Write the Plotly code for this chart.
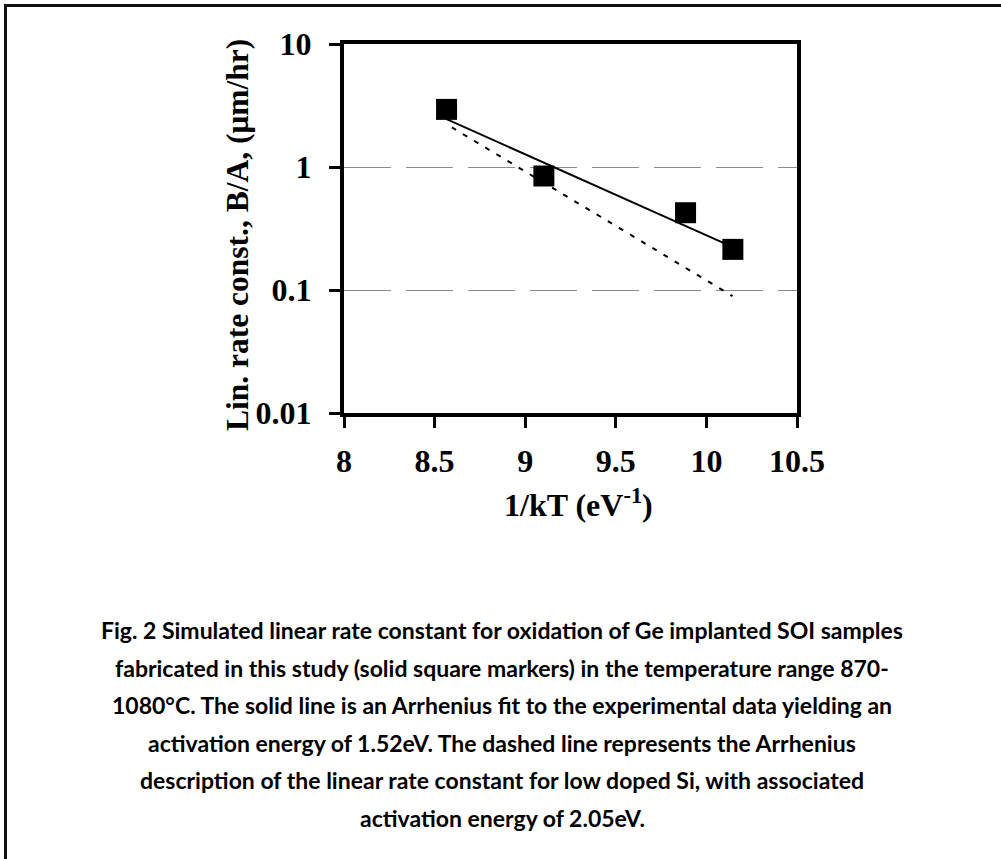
import plotly.graph_objects as go

# ---- data ----
inv_kT = [8.566, 9.103, 9.885, 10.146]
rate = [2.94, 0.845, 0.425, 0.214]

fit_x = [8.566, 10.146]          # Arrhenius fit (1.52 eV)
fit_y = [2.45, 0.223]
si_x = [8.595, 10.144]           # low doped Si (2.05 eV)
si_y = [2.10, 0.0893]

x_ticks = [8, 8.5, 9, 9.5, 10, 10.5]
x_ticktext = ["8", "8.5", "9", "9.5", "10", "10.5"]
y_ticks = [0.01, 0.1, 1, 10]
y_ticktext = ["0.01", "0.1", "1", "10"]

caption_lines = [
    "Fig. 2 Simulated linear rate constant for oxidation of Ge implanted SOI samples",
    "fabricated in this study (solid square markers) in the temperature range 870-",
    "1080°C. The solid line is an Arrhenius fit to the experimental data yielding an",
    "activation energy of 1.52eV. The dashed line represents the Arrhenius",
    "description of the linear rate constant for low doped Si, with associated",
    "activation energy of 2.05eV.",
]

# ---- layout geometry ----
W, H = 1001, 859
L, R, T, B = 344, 797, 44, 413


def px_x(p):
    return (p - L) / (R - L)


def px_y(p):
    return (B - p) / (B - T)


fig = go.Figure()
fig.add_trace(go.Scatter(x=si_x, y=si_y, mode="lines",
                         line=dict(color="black", width=2, dash="5px,8px"),
                         showlegend=False, hoverinfo="skip"))
fig.add_trace(go.Scatter(x=fit_x, y=fit_y, mode="lines",
                         line=dict(color="black", width=2),
                         showlegend=False, hoverinfo="skip"))
fig.add_trace(go.Scatter(x=inv_kT, y=rate, mode="markers",
                         marker=dict(symbol="square", size=21, color="black",
                                     line=dict(width=0)),
                         showlegend=False))

tick_font = dict(family="Liberation Serif", size=32, color="black", weight="bold")

fig.update_xaxes(range=[8, 10.5], tickvals=x_ticks, ticktext=x_ticktext,
                 showgrid=False, zeroline=False,
                 showline=True, linecolor="black", linewidth=4, mirror=True,
                 ticks="outside", ticklen=11, tickwidth=3, tickcolor="black",
                 ticklabelstandoff=6,
                 tickfont=tick_font)
fig.update_yaxes(type="log", range=[-2, 1], tickvals=y_ticks, ticktext=y_ticktext,
                 showgrid=True, gridcolor="#8c8c8c", gridwidth=1, griddash="47px,15px",
                 zeroline=False,
                 showline=True, linecolor="black", linewidth=4, mirror=True,
                 ticks="outside", ticklen=11, tickwidth=3, tickcolor="black",
                 ticklabelstandoff=11,
                 tickfont=tick_font)

annotations = [
    dict(text="1/kT (eV<sup>-1</sup>)", x=px_x(578), y=px_y(503),
         xref="paper", yref="paper", showarrow=False, xanchor="center", yanchor="middle",
         font=dict(family="Liberation Serif", size=32, color="black", weight="bold")),
    dict(text="Lin. rate const., B/A, (\u03bcm/hr)", x=px_x(237), y=px_y(235),
         xref="paper", yref="paper", showarrow=False, textangle=-90,
         xanchor="center", yanchor="middle",
         font=dict(family="Liberation Serif", size=31.5, color="black", weight="bold")),
]
cap_y0 = 630
cap_dy = 37.6
for i, line in enumerate(caption_lines):
    annotations.append(dict(text=line, x=px_x(502), y=px_y(cap_y0 + i * cap_dy),
                            xref="paper", yref="paper", showarrow=False,
                            xanchor="center", yanchor="middle",
                            font=dict(family="Lato", size=23, color="black", weight="bold")))

shapes = [
    dict(type="path", xref="paper", yref="paper",
         path=f"M {px_x(5.5)} {px_y(870)} L {px_x(5.5)} {px_y(5.5)} L {px_x(1010)} {px_y(5.5)}",
         line=dict(color="#111111", width=3)),
]

fig.update_layout(width=W, height=H,
                  margin=dict(l=L, r=W - R, t=T, b=H - B),
                  paper_bgcolor="white", plot_bgcolor="white",
                  annotations=annotations, shapes=shapes, showlegend=False)

fig.write_html("out.html")
